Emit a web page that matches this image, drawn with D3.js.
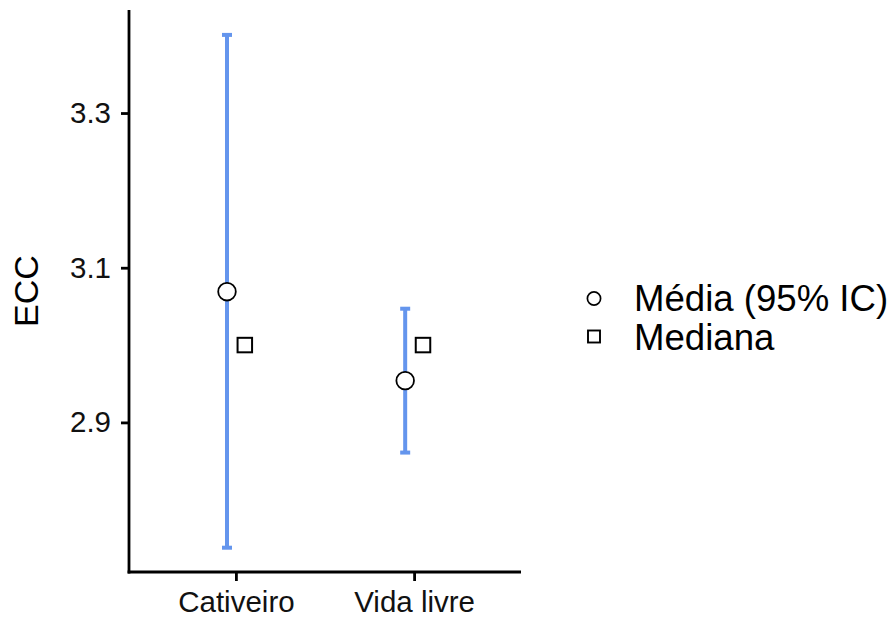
<!DOCTYPE html>
<html>
<head>
<meta charset="utf-8">
<script src="https://cdn.jsdelivr.net/npm/d3@7"></script>
<style>
  html, body { margin: 0; padding: 0; background: #fff; }
  svg { display: block; font-family: "Liberation Sans", Arial, sans-serif; }
</style>
</head>
<body>
<svg id="chart" width="894" height="625"></svg>
<script>
// Groups and summary statistics of ECC
const categories = ["Cativeiro", "Vida livre"];
const means   = [3.069, 2.954];
const ciLower = [2.738, 2.861];
const ciUpper = [3.401, 3.047];
const medians = [3.0, 3.0];
const yTicks  = [2.9, 3.1, 3.3];
const legendLabels = ["Média (95% IC)", "Mediana"];

const rows = categories.map((c, i) => ({
  cat: c, mean: means[i], lo: ciLower[i], hi: ciUpper[i], median: medians[i]
}));

const svg = d3.select("#chart");
const plot = { left: 129, right: 521, top: 10, bottom: 572 };

const x = d3.scalePoint().domain(categories).range([plot.left, plot.right]).padding(0.6);
const y = d3.scaleLinear().domain([2.7066, 3.4332]).range([plot.bottom, plot.top]);
const dodge = x.step() * 0.05;
const blue = "#6495ED";

// Axes
const yAxis = svg.append("g")
  .attr("transform", `translate(${plot.left},0)`)
  .call(d3.axisLeft(y).tickValues(yTicks).tickFormat(d3.format(".1f")).tickSize(8).tickPadding(10));
const xAxis = svg.append("g")
  .attr("transform", `translate(0,${plot.bottom})`)
  .call(d3.axisBottom(x).tickSize(9).tickPadding(10));

[yAxis, xAxis].forEach(g => {
  g.select(".domain").attr("stroke", "#000").attr("stroke-width", 2.8);
  g.selectAll(".tick line").attr("stroke", "#000").attr("stroke-width", 2.8);
  g.selectAll(".tick text").attr("fill", "#111").style("font-size", "29.5px")
    .style("font-family", "'Liberation Sans', Arial, sans-serif");
});
// extend axis lines to meet at the corner
yAxis.select(".domain").attr("d", `M0,${plot.top}V${plot.bottom + 1.4}`);
xAxis.select(".domain").attr("d", `M${plot.left - 1.4},0H${plot.right}`);

// Y axis title
svg.append("text")
  .attr("transform", `translate(38,${(plot.top + plot.bottom) / 2}) rotate(-90)`)
  .attr("text-anchor", "middle")
  .style("font-size", "34px")
  .attr("fill", "#000")
  .text("ECC");

// Error bars (95% CI)
const eb = svg.append("g").attr("stroke", blue).attr("stroke-width", 4).attr("fill", "none");
rows.forEach(d => {
  const cx = x(d.cat) - dodge;
  eb.append("line").attr("x1", cx).attr("x2", cx).attr("y1", y(d.hi)).attr("y2", y(d.lo));
  eb.append("line").attr("x1", cx - 5).attr("x2", cx + 5).attr("y1", y(d.hi)).attr("y2", y(d.hi));
  eb.append("line").attr("x1", cx - 5).attr("x2", cx + 5).attr("y1", y(d.lo)).attr("y2", y(d.lo));
});

// Medians (squares)
const sq = 14.5;
svg.append("g").selectAll("rect").data(rows).join("rect")
  .attr("x", d => x(d.cat) + dodge - sq / 2)
  .attr("y", d => y(d.median) - sq / 2)
  .attr("width", sq).attr("height", sq)
  .attr("fill", "#fff").attr("stroke", "#000").attr("stroke-width", 2);

// Means (circles)
svg.append("g").selectAll("circle").data(rows).join("circle")
  .attr("cx", d => x(d.cat) - dodge)
  .attr("cy", d => y(d.mean))
  .attr("r", 8.8)
  .attr("fill", "#fff").attr("stroke", "#000").attr("stroke-width", 1.8);

// Legend
const lg = svg.append("g").attr("transform", "translate(594,0)");
lg.append("circle").attr("cx", 0).attr("cy", 298.5).attr("r", 6.6)
  .attr("fill", "#fff").attr("stroke", "#000").attr("stroke-width", 1.7);
lg.append("rect").attr("x", -6).attr("y", 330.5).attr("width", 12).attr("height", 12)
  .attr("fill", "#fff").attr("stroke", "#000").attr("stroke-width", 1.9);
lg.selectAll("text.lab").data(legendLabels).join("text")
  .attr("class", "lab")
  .attr("x", 40)
  .attr("y", (d, i) => 311 + i * 38.5)
  .style("font-size", "36.6px")
  .attr("fill", "#000")
  .text(d => d);
</script>
</body>
</html>
